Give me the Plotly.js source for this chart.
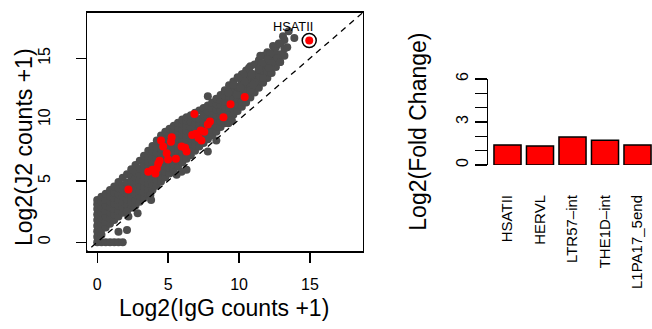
<!DOCTYPE html>
<html><head><meta charset="utf-8">
<script src="https://cdn.plot.ly/plotly-3.0.1.min.js"></script>
<style>html,body{margin:0;padding:0;background:#fff}#chart{width:652px;height:329px}</style>
</head><body><div id="chart"></div>
<script>
// ---- Scatter: Log2(IgG counts +1) vs Log2(J2 counts +1), all repeats (grey) ----
// dense band, read column by column (x value, then the y values in that column)
const bandX = [0.0,0.3,0.6,0.9,1.2,1.5,1.8,2.1,2.4,2.7,3.0,3.3,3.6,3.9,4.2,4.5,4.8,5.1,5.4,5.7,6.0,6.3,6.6,6.9,7.2,7.5,7.8,8.1,8.4,8.7,9.0,9.3,9.6,9.9,10.2,10.5,10.8,11.1,11.4,11.7,12.0,12.3,12.6,12.9,13.2];
const bandY = [
  [0,0.45,0.9,1.35,1.8,2.25,2.7,3.1,3.45],
  [0,0.6,1.05,1.5,1.95,2.4,2.85,3.3,3.7],
  [0,1.2,1.65,2.1,2.55,3.0,3.45,3.95],
  [0,1.5,1.95,2.4,2.85,3.3,3.75,4.25],
  [0,1.8,2.25,2.7,3.15,3.6,4.05,4.55],
  [0,0.85,2.1,2.55,3.0,3.45,3.9,4.4,4.9],
  [0,2.4,2.85,3.3,3.75,4.2,4.65,5.25],
  [1.0,2.6,3.05,3.5,3.95,4.4,4.85,5.55],
  [2.8,3.25,3.7,4.15,4.6,5.05,5.5,5.95],
  [3.0,3.45,3.9,4.35,4.8,5.25,5.7,6.3],
  [3.3,3.75,4.2,4.65,5.1,5.55,6.0,6.65],
  [3.6,4.05,4.5,4.95,5.4,5.85,6.3,6.75,7.05],
  [3.9,4.35,4.8,5.25,5.7,6.15,6.6,7.05,7.45],
  [4.25,4.7,5.15,5.6,6.05,6.5,6.95,7.4,7.85],
  [4.6,5.05,5.5,5.95,6.4,6.85,7.3,7.75,8.3],
  [4.95,5.4,5.85,6.3,6.75,7.2,7.65,8.1,8.7],
  [5.3,5.75,6.2,6.65,7.1,7.55,8.0,8.45,9.0],
  [5.6,6.05,6.5,6.95,7.4,7.85,8.3,8.75,9.25],
  [5.9,6.35,6.8,7.25,7.7,8.15,8.6,9.05,9.5],
  [6.2,6.65,7.1,7.55,8.0,8.45,8.9,9.35,9.75],
  [6.5,6.95,7.4,7.85,8.3,8.75,9.2,9.65,10.0],
  [6.8,7.25,7.7,8.15,8.6,9.05,9.5,9.9,10.2],
  [7.1,7.55,8.0,8.45,8.9,9.35,9.8,10.35],
  [7.45,7.9,8.35,8.8,9.25,9.7,10.15,10.55],
  [7.8,8.25,8.7,9.15,9.6,10.05,10.75],
  [8.1,8.55,9.0,9.45,9.9,10.35,10.95],
  [8.4,8.85,9.3,9.75,10.2,10.65,11.15],
  [8.7,9.15,9.6,10.05,10.5,10.95,11.4],
  [9.0,9.45,9.9,10.35,10.8,11.25,11.7],
  [9.4,9.85,10.3,10.75,11.2,11.6,12.0],
  [9.7,10.15,10.6,11.05,11.5,11.95,12.4],
  [10.05,10.5,10.95,11.4,11.9,12.4,12.8],
  [10.4,10.85,11.3,11.8,12.3,12.8,13.1],
  [10.7,11.2,11.7,12.2,12.7,13.45],
  [11.05,11.5,12.0,12.5,13.0,13.7],
  [11.4,11.9,12.4,12.9,13.4,14.0],
  [11.8,12.3,12.8,13.3,13.8,14.35],
  [12.2,12.7,13.2,13.7,14.5],
  [12.6,13.1,13.6,14.1,14.85],
  [13.0,13.5,14.0,14.5,15.2],
  [13.4,13.9,14.4,15.0,15.5],
  [13.8,14.3,14.8,15.4],
  [14.3,14.8,15.3,15.9],
  [14.7,15.3,16.2],
  [15.2,15.8,16.5]
];
// isolated grey points (outliers and the sparse upper end)
const sparseX = [2.2,2.85,2.1,3.75,3.8,5.6,5.95,6.3,7.8,8.4,9.25,9.5,7.8,
  13.5,13.9,13.1,12.8,12.4,12.5,12.2,12.9,12.7,12.0,11.5,11.6,12.3,12.9,12.1,11.4,10.7,10.9,10.3,11.7,11.1,10.4,9.95,9.6,10.1,10.8,9.25,9.85,11.0,13.4];
const sparseY = [2.1,2.35,2.5,3.85,3.45,5.5,5.75,5.9,7.4,8.3,9.7,9.9,11.9,
  17.2,16.65,16.8,16.2,16.0,15.6,15.4,15.3,15.0,14.9,15.2,14.6,14.6,14.7,14.2,14.1,14.2,13.7,13.7,13.4,13.0,13.1,13.4,12.85,12.6,12.4,12.2,12.0,12.85,15.9];
// highlighted repeats (red)
const redX = [2.2,3.6,3.9,4.1,4.2,4.3,4.4,4.5,4.65,4.9,5.0,5.2,5.25,5.55,5.95,6.2,6.3,6.85,6.7,6.95,7.15,7.3,7.35,7.55,7.8,7.95,8.9,9.4,10.4];
const redY = [4.3,5.75,5.9,5.6,6.0,6.4,6.65,8.3,7.8,7.25,6.75,8.2,8.55,6.8,7.8,7.7,7.4,10.45,8.75,8.85,8.5,9.1,8.3,9.0,9.6,9.85,10.2,11.25,11.85];
// HSATII
const hsatX = [14.95];
const hsatY = [16.45];
const hsatLabel = 'HSATII';
const identity = [-1, 20];
const scatterTicks = [0, 5, 10, 15];

// ---- Bar chart ----
const repeats = ['HSATII', 'HERVL', 'LTR57\u2013int', 'THE1D\u2013int', 'L1PA17_5end'];
const log2FC = [1.4, 1.33, 1.95, 1.73, 1.4];
const barTicks = [0, 1, 2, 3, 4, 5, 6];
const barTickText = ['0', '', '', '3', '', '', '6'];

const grayX = [], grayY = [];
bandX.forEach((x, i) => bandY[i].forEach(y => { grayX.push(x); grayY.push(y); }));
sparseX.forEach((x, i) => { grayX.push(x); grayY.push(sparseY[i]); });

const FONT = 'Liberation Sans, Arial, Helvetica, sans-serif';
const GREY = '#4D4D4D';

const traces = [
  {type:'scatter', mode:'markers', x:grayX, y:grayY, xaxis:'x', yaxis:'y',
   marker:{color:GREY, size:8, line:{width:0}}, hoverinfo:'skip'},
  {type:'scatter', mode:'lines', x:identity, y:identity, xaxis:'x', yaxis:'y',
   line:{color:'black', width:1.3, dash:'6px,5px'}, hoverinfo:'skip'},
  {type:'scatter', mode:'markers', x:redX, y:redY, xaxis:'x', yaxis:'y',
   marker:{color:'#FF0000', size:8, line:{width:0}}},
  {type:'scatter', mode:'markers', x:hsatX, y:hsatY, xaxis:'x', yaxis:'y',
   marker:{color:'#FF0000', size:8, line:{width:0}}},
  {type:'scatter', mode:'markers', x:hsatX, y:hsatY, xaxis:'x', yaxis:'y',
   marker:{symbol:'circle-open', color:'black', size:14, line:{width:1.5, color:'black'}}},
  {type:'bar', x:repeats, y:log2FC, xaxis:'x2', yaxis:'y2',
   marker:{color:'#FF0000', line:{color:'black', width:1.5}}}
];

const layout = {
  width:652, height:329, margin:{l:0, r:0, t:0, b:0},
  paper_bgcolor:'white', plot_bgcolor:'white', showlegend:false,
  font:{family:FONT, color:'black', size:16},
  bargap:0.167,
  xaxis:{domain:[87/652, 362.7/652], range:[-0.72, 18.72], anchor:'y',
    tickvals:scatterTicks, ticks:'outside', ticklen:10, tickwidth:1.3, tickcolor:'black',
    showline:true, mirror:true, linecolor:'black', linewidth:1.5,
    showgrid:false, zeroline:false, tickfont:{size:16, family:FONT}, ticklabelstandoff:8},
  yaxis:{domain:[1-251/329, 1-12.7/329], range:[-0.72, 18.72], anchor:'x',
    tickvals:scatterTicks, ticks:'outside', ticklen:10, tickwidth:1.3, tickcolor:'black', tickangle:-90,
    showline:true, mirror:true, linecolor:'black', linewidth:1.5,
    showgrid:false, zeroline:false, tickfont:{size:16, family:FONT}, ticklabelstandoff:19},
  xaxis2:{domain:[488/652, 1], range:[-0.6, 4.446], anchor:'y2', type:'category',
    showline:false, ticks:'', tickangle:-90, showgrid:false, zeroline:false,
    tickfont:{size:15, family:FONT}, ticklabelstandoff:26},
  yaxis2:{domain:[1-165/329, 1-79/329], range:[0, 6], anchor:'x2',
    tickvals:barTicks, ticktext:barTickText, ticks:'outside', ticklen:12, tickwidth:1.3, tickcolor:'black',
    tickangle:-90, showline:true, linecolor:'black', linewidth:1.5,
    showgrid:false, zeroline:false, tickfont:{size:16, family:FONT}, ticklabelstandoff:23.2},
  annotations:[
    {xref:'x', yref:'y', x:13.8, y:17.6, text:hsatLabel, showarrow:false,
     font:{size:12.8, family:FONT, color:'black'}},
    {xref:'paper', yref:'paper', x:224/652, y:1-308/329, text:'Log2(IgG counts +1)', showarrow:false,
     font:{size:23, family:FONT, color:'black'}, xanchor:'center', yanchor:'middle'},
    {xref:'paper', yref:'paper', x:24/652, y:1-147/329, text:'Log2(J2 counts +1)', showarrow:false,
     textangle:-90, font:{size:23, family:FONT, color:'black'}, xanchor:'center', yanchor:'middle'},
    {xref:'paper', yref:'paper', x:418/652, y:1-131.7/329, text:'Log2(Fold Change)', showarrow:false,
     textangle:-90, font:{size:23, family:FONT, color:'black'}, xanchor:'center', yanchor:'middle'}
  ]
};

Plotly.newPlot('chart', traces, layout, {staticPlot:true, displayModeBar:false});
</script>
</body></html>
